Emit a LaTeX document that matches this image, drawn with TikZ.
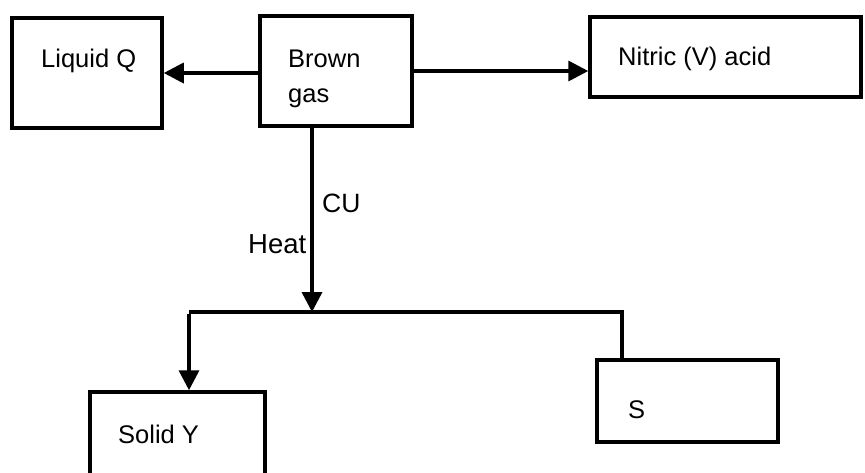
\documentclass[tikz,border=0pt]{standalone}
\usepackage{fontspec}
\setmainfont{Liberation Sans}
\usetikzlibrary{arrows.meta,calc}
\begin{document}
\begin{tikzpicture}[x=1pt,y=-1pt,
  box/.style={draw=black,line width=3.5pt,minimum width=#1,inner sep=0pt},
  lbl/.style={anchor=base west,inner sep=0pt,font=\fontsize{25.5}{30}\selectfont},
  conn/.style={line width=3.5pt},
  arr/.style={line width=3.5pt,-{Triangle[length=20pt,width=20pt]}}]
\useasboundingbox (0,0) rectangle (865,472);
% boxes
\node[box=150pt,minimum height=110pt] (Q) at (87,73) {};
\node[box=152pt,minimum height=110pt] (B) at (336,71) {};
\node[box=271pt,minimum height=80pt] (N) at (725.5,57) {};
\node[box=175pt,minimum height=88pt] (Y) at (177.5,436) {};
\node[box=181pt,minimum height=82pt] (S) at (687.5,401) {};
% texts
\node[lbl] (tQ) at (41,67) {Liquid Q};
\node[lbl] (tB1) at (288,67) {Brown};
\node[lbl] (tB2) at (288,102) {gas};
\node[lbl] (tN) at (618,65) {Nitric (V) acid};
\node[lbl,font=\fontsize{26.5}{30}\selectfont] (tCU) at (322,212) {CU};
\node[lbl,font=\fontsize{27.5}{30}\selectfont] (tH) at (248,253) {Heat};
\node[lbl] (tY) at (118,443) {Solid Y};
\node[lbl] (tS) at (628,418) {S};
% connectors
\coordinate (J) at (312,312);
\coordinate (L) at (189,312);
\coordinate (R) at (622,312);
\draw[arr] (Q.east -| B.west) -- (Q.east);
\draw[arr] (B.east) -- (B.east -| N.west);
\draw[arr] (B.south -| J) -- (J);
\draw[conn] (L) -- (R) -- (R |- S.north);
\draw[arr] ([yshift=-1.75pt]L) -- (L |- Y.north);
\end{tikzpicture}
\end{document}
